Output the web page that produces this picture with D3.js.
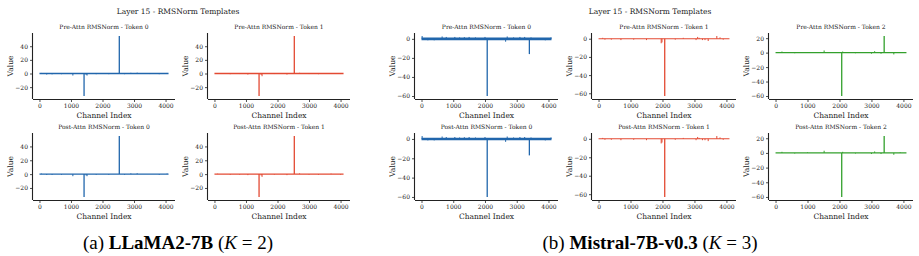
<!DOCTYPE html>
<html><head><meta charset="utf-8">
<script src="https://cdn.jsdelivr.net/npm/d3@7/dist/d3.min.js"></script>
<style>
body{margin:0;background:#fff;}
svg{display:block;}
</style></head>
<body>
<svg id="chart" width="919" height="256"></svg>
<script>
// ---------------- DATA ----------------
const channelCount = 4096;
const xTicks = [0, 1000, 2000, 3000, 4000];
const llamaYTicks = [-20, 0, 20, 40];
const mistralYTicks = [-60, -40, -20, 0];
const mistralGreenYTicks = [-60, -40, -20, 0, 20];

const panelTitle = "Layer 15 - RMSNorm Templates";
const llamaTitles = ["Pre-Attn RMSNorm - Token 0", "Pre-Attn RMSNorm - Token 1",
                     "Post-Attn RMSNorm - Token 0", "Post-Attn RMSNorm - Token 1"];
const mistralTitles = ["Pre-Attn RMSNorm - Token 0", "Pre-Attn RMSNorm - Token 1", "Pre-Attn RMSNorm - Token 2",
                       "Post-Attn RMSNorm - Token 0", "Post-Attn RMSNorm - Token 1", "Post-Attn RMSNorm - Token 2"];

// sparse channel values (all other channels ~0): [channel, value]
const llamaPreT0 = [[60,0.8],[230,-1.5],[400,-1.2],[700,-1],[900,0.7],[1060,-3],[1415,-33],[1480,-2],[1510,-3],[1800,-1],[2200,-1],[2533,55],[2700,-1],[2900,1],[3100,1.2],[3500,-0.8],[3800,-1],[4050,0.8]];
const llamaPreT1 = [[100,0.6],[500,-1],[800,-0.8],[1060,-1.5],[1415,-33],[1480,-2],[1510,-4],[1900,-0.8],[2300,-1.5],[2533,55],[2700,1],[3000,-0.8],[3300,-1],[3700,0.7],[4000,-0.8]];
const llamaPostT0 = [[60,0.8],[230,-1.2],[400,-1.2],[700,-1],[1060,-3],[1415,-33],[1480,-2],[1510,-3],[1800,-1],[2200,-1],[2533,55],[2700,-1],[2900,1],[3100,1.2],[3800,-1],[4050,0.8]];
const llamaPostT1 = [[100,0.6],[500,-1],[800,-0.8],[1060,-1.5],[1415,-33],[1480,-2],[1510,-4],[1900,-0.8],[2300,-1.5],[2533,55],[2700,1],[3000,-0.8],[3300,-1],[3700,0.7],[4000,-0.8]];

const mistralPreT0 = [[20,3],[200,-1.5],[400,-1.5],[650,2.5],[780,2],[1050,2],[1200,1.5],[1350,1.8],[1500,2],[1700,1.5],[1800,-1],[2000,2],[2070,-60],[2650,-3],[2700,2.5],[2900,1.5],[3100,2],[3250,2],[3398,-16],[3450,1.5],[3900,-1.5],[4080,1.5]];
const mistralPreT1 = [[130,1],[200,-1],[400,-1],[700,-1.5],[1100,-1],[1500,-1.5],[1960,-5],[1985,-4],[2070,-63],[2400,-1],[2650,1],[3050,-1.5],[3100,2],[3150,1],[3250,-1.5],[3330,-1.5],[3430,-2.5],[3700,3],[3800,1.5],[3900,-1]];
const mistralPreT2 = [[200,1.5],[600,-0.8],[1000,0.8],[1520,3],[2070,-60],[2100,1.5],[2500,-0.8],[3000,-1.5],[3100,2],[3300,-1.5],[3398,23],[3700,-2.5],[3900,0.8]];
const mistralPostT0 = [[20,3],[200,-1.5],[400,-1.5],[650,2.5],[780,2],[1050,2],[1200,1.5],[1350,1.8],[1500,2],[1700,1.5],[1800,-1],[2000,2],[2070,-60],[2650,-3],[2700,2.5],[2900,1.5],[3100,2],[3250,2],[3398,-17],[3450,1.5],[3900,-1.5],[4080,1.5]];
const mistralPostT1 = [[130,1],[200,-1],[400,-1],[700,-1.5],[1100,-1],[1500,-1.5],[1960,-5],[1985,-4],[2070,-63],[2400,-1],[2650,1],[3050,-1.5],[3100,2],[3150,1],[3250,-1.5],[3330,-1.5],[3430,-2.5],[3700,3],[3800,1.5],[3900,-1]];
const mistralPostT2 = [[200,1.5],[600,-0.8],[1000,0.8],[1520,3],[2070,-60],[2100,1.5],[2500,-0.8],[3000,-1.5],[3100,2],[3300,-1.5],[3398,23],[3700,-2.5],[3900,0.8]];

const blue = "#2166ac", red = "#e34a33", green = "#33a02c";

// ---------------- LAYOUT ----------------
const svg = d3.select("#chart");
const FONT = "DejaVu Serif";
const INK = "#222";
const rows = [[33, 99], [133, 200]];

function panel(x0, x1, y0, y1, data, color, title, yTicks, lineW) {
  const xr = (channelCount - 1) * 0.05;
  const xs = d3.scaleLinear().domain([-xr, channelCount - 1 + xr]).range([x0, x1]);
  const vals = data.map(d => d[1]).concat([0]);
  const mn = d3.min(vals), mx = d3.max(vals), pad = (mx - mn) * 0.05;
  const ys = d3.scaleLinear().domain([mn - pad, mx + pad]).range([y1, y0]);
  const g = svg.append("g");

  g.append("line").attr("x1", xs(0)).attr("x2", xs(channelCount - 1))
    .attr("y1", ys(0)).attr("y2", ys(0))
    .attr("stroke", color).attr("stroke-width", lineW);
  g.selectAll("line.s").data(data).join("line").attr("class", "s")
    .attr("x1", d => xs(d[0])).attr("x2", d => xs(d[0]))
    .attr("y1", ys(0)).attr("y2", d => ys(d[1]))
    .attr("stroke", color).attr("stroke-width", d => Math.abs(d[1]) > 10 ? 1.3 : 1);

  const xa = g.append("g").attr("transform", `translate(0,${y1})`).attr("color", INK)
    .call(d3.axisBottom(xs).tickValues(xTicks).tickSize(3).tickPadding(2).tickFormat(d3.format("d")));
  const ya = g.append("g").attr("transform", `translate(${x0},0)`).attr("color", INK)
    .call(d3.axisLeft(ys).tickValues(yTicks).tickSize(3).tickPadding(2).tickFormat(d => d < 0 ? "\u2212" + Math.abs(d) : d));
  [xa, ya].forEach(a => {
    a.select(".domain").attr("stroke", INK).attr("stroke-width", 1.1);
    a.selectAll(".tick line").attr("stroke", INK).attr("stroke-width", 0.8);
    a.selectAll("text").attr("font-family", FONT).attr("font-size", 6).attr("fill", INK);
  });
  xa.select(".domain").attr("d", `M${x0},0.5H${x1}`);
  ya.select(".domain").attr("d", `M-0.5,${y0}V${y1}`);

  g.append("text").attr("x", (x0 + x1) / 2).attr("y", y0 - 4).attr("text-anchor", "middle")
    .attr("font-family", FONT).attr("font-size", 6).attr("fill", INK).text(title);
  g.append("text").attr("x", (x0 + x1) / 2).attr("y", y1 + 19).attr("text-anchor", "middle")
    .attr("font-family", FONT).attr("font-size", 7.5).attr("fill", INK).text("Channel Index");
  g.append("text").attr("transform", `translate(${x0 - 20},${(y0 + y1) / 2}) rotate(-90)`)
    .attr("text-anchor", "middle").attr("font-family", FONT).attr("font-size", 7.5).attr("fill", INK).text("Value");
}

const llamaCols = [[33, 175], [208, 350]];
const llamaData = [llamaPreT0, llamaPreT1, llamaPostT0, llamaPostT1];
const llamaColors = [blue, red, blue, red];
llamaData.forEach((d, i) => {
  const r = Math.floor(i / 2), c = i % 2;
  panel(llamaCols[c][0], llamaCols[c][1], rows[r][0], rows[r][1], d, llamaColors[i], llamaTitles[i], llamaYTicks, 1.4);
});
const mistralCols = [[415, 558], [592, 736], [769, 913]];
const mistralData = [mistralPreT0, mistralPreT1, mistralPreT2, mistralPostT0, mistralPostT1, mistralPostT2];
const mistralColors = [blue, red, green, blue, red, green];
mistralData.forEach((d, i) => {
  const r = Math.floor(i / 3), c = i % 3;
  panel(mistralCols[c][0], mistralCols[c][1], rows[r][0], rows[r][1], d, mistralColors[i], mistralTitles[i],
        c === 2 ? mistralGreenYTicks : mistralYTicks, c === 0 ? 2.6 : 1.1);
});

[[178, panelTitle], [650, panelTitle]].forEach(([x, t]) => {
  svg.append("text").attr("x", x).attr("y", 14).attr("text-anchor", "middle")
    .attr("font-family", FONT).attr("font-size", 7.5).attr("fill", INK).text(t);
});

function caption(x, label, model, k) {
  const t = svg.append("text").attr("x", x).attr("y", 249).attr("text-anchor", "middle")
    .attr("font-family", "Liberation Serif").attr("font-size", 19).attr("fill", "#000");
  t.append("tspan").text(label + " ");
  t.append("tspan").attr("font-weight", "bold").text(model);
  t.append("tspan").text(" (");
  t.append("tspan").attr("font-style", "italic").text("K");
  t.append("tspan").text(" = " + k + ")");
}
caption(178, "(a)", "LLaMA2-7B", 2);
caption(650, "(b)", "Mistral-7B-v0.3", 3);
</script>
</body></html>
